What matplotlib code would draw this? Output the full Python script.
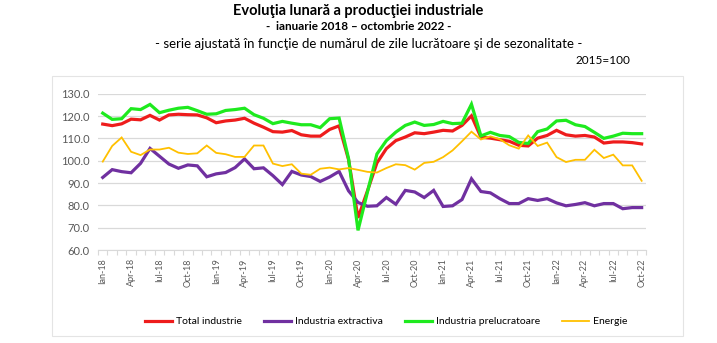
import matplotlib
matplotlib.use("Agg")
import matplotlib.pyplot as plt
from matplotlib.patches import Rectangle

plt.rcParams['font.family'] = ['Lato', 'DejaVu Sans']

# luni: ianuarie 2018 - octombrie 2022
luni = [f"{l}-{a}" for a in range(18, 23)
        for l in ["Ian", "Feb", "Mar", "Apr", "Mai", "Iun", "Iul", "Aug", "Sep", "Oct", "Noi", "Dec"]][:58]

total_industrie = [116.4, 115.7, 116.5, 118.6, 118.3, 120.3, 118.2, 120.5, 120.8, 120.6,
                   120.5, 119.2, 117.0, 117.8, 118.2, 119.0, 116.8, 115.0, 113.0, 112.8,
                   113.5, 111.6, 111.0, 111.0, 114.0, 115.6, 100.5, 74.4, 86.5, 99.0,
                   105.4, 109.0, 110.6, 112.5, 112.1, 112.8, 113.6, 113.3, 115.8, 120.1,
                   110.5, 110.1, 109.4, 108.7, 106.9, 106.6, 110.1, 111.3, 113.6, 111.6,
                   111.0, 111.3, 110.6, 107.9, 108.4, 108.4, 108.1, 107.5]

industria_extractiva = [92.5, 96.0, 95.1, 94.6, 98.8, 105.5, 102.0, 98.5, 96.6, 98.1,
                        97.7, 92.8, 94.1, 94.7, 96.9, 100.8, 96.4, 96.8, 93.3, 89.3,
                        95.2, 93.6, 92.9, 90.7, 92.7, 95.2, 86.5, 81.3, 79.6, 79.8,
                        83.5, 80.5, 86.7, 86.0, 83.5, 86.7, 79.5, 79.8, 82.6, 91.9,
                        86.2, 85.6, 83.0, 80.8, 80.8, 83.0, 82.2, 83.0, 81.1, 79.8,
                        80.4, 81.2, 79.8, 80.8, 80.8, 78.5, 79.0, 79.0]

industria_prelucratoare = [121.3, 118.5, 118.8, 123.3, 122.9, 125.2, 121.5, 122.6, 123.5, 123.9,
                           122.4, 120.8, 121.0, 122.5, 122.9, 123.5, 120.6, 119.0, 116.6, 117.6,
                           116.8, 116.1, 116.1, 114.8, 118.8, 119.1, 100.9, 68.8, 86.0, 103.0,
                           109.0, 112.8, 115.8, 117.3, 115.8, 116.2, 117.6, 116.6, 116.8, 125.3,
                           111.1, 112.7, 111.3, 110.8, 108.2, 107.7, 113.0, 114.2, 117.8, 118.1,
                           116.1, 115.3, 112.7, 110.0, 111.0, 112.3, 112.1, 112.1]

energie = [99.6, 106.6, 110.4, 104.0, 102.5, 105.0, 105.0, 105.8, 103.6, 103.0,
           103.3, 106.8, 103.5, 102.9, 101.7, 101.7, 106.8, 106.8, 98.7, 97.6,
           98.4, 94.2, 93.7, 96.4, 96.9, 96.1, 96.7, 95.9, 95.0, 94.7,
           96.7, 98.4, 98.0, 96.0, 99.0, 99.5, 101.6, 104.6, 108.7, 113.0,
           109.5, 110.9, 109.6, 106.9, 105.4, 111.3, 106.6, 108.1, 101.6, 99.4,
           100.4, 100.4, 104.9, 101.2, 102.7, 97.9, 97.9, 91.0]

serii = [
    ("Total industrie", total_industrie, "#ee1c1c", 2.3),
    ("Industria extractiva", industria_extractiva, "#7030a0", 2.3),
    ("Industria prelucratoare", industria_prelucratoare, "#1eea1e", 2.3),
    ("Energie", energie, "#ffc000", 1.3),
]

fig = plt.figure(figsize=(7.17, 3.43), dpi=100)
ax = fig.add_axes([0.1367, 0.2711, 0.7648, 0.4557])

# chenarul graficului
fig.patches.append(Rectangle((52 / 717, 1 - 336 / 343), 631 / 717, 260 / 343,
                             transform=fig.transFigure, fill=False,
                             edgecolor="#e4e4e4", linewidth=0.8, zorder=0))

x = list(range(len(luni)))
for nume, valori, culoare, lw in serii:
    ax.plot(x, valori, color=culoare, linewidth=lw, label=nume, solid_joinstyle="miter")

ax.set_xlim(-0.5, len(luni) - 0.5)
ax.set_ylim(60, 130)
ax.set_yticks(range(60, 131, 10))
ax.set_yticklabels([f"{v:.1f}" for v in range(60, 131, 10)])
ax.set_xticks(x[::3])
ax.set_xticklabels(luni[::3], rotation=90)
ax.set_xticks([i - 0.5 for i in range(len(luni) + 1)], minor=True)

ax.grid(axis="y", color="#d9d9d9", linewidth=0.9)
ax.set_axisbelow(True)
for s in ["top", "right", "left"]:
    ax.spines[s].set_visible(False)
ax.spines["bottom"].set_color("#d9d9d9")
ax.tick_params(axis="y", length=0, labelsize=8, labelcolor="#595959", pad=6)
ax.tick_params(axis="x", which="major", length=0, labelsize=6.5, labelcolor="#595959", pad=6)
ax.tick_params(axis="x", which="minor", length=3.5, color="#d9d9d9", width=0.8)

fig.text(0.5, 0.968, "Evoluţia lunară a producţiei industriale", ha="center", va="center",
         fontsize=10.5, fontweight="bold")
fig.text(0.5, 0.922, "-  ianuarie 2018 – octombrie 2022 -", ha="center", va="center",
         fontsize=8.5, fontweight="bold")
fig.text(0.514, 0.873, "- serie ajustată în funcţie de numărul de zile lucrătoare şi de sezonalitate -",
         ha="center", va="center", fontsize=9.5)
fig.text(630 / 717, 0.825, "2015=100", ha="right", va="center", fontsize=8.5)

fig.legend(loc="center", bbox_to_anchor=(386 / 717, 1 - 321.5 / 343), ncol=4, frameon=False,
           fontsize=7.5, handlelength=2.6, handletextpad=0.4, columnspacing=2.1)

fig.savefig("out.png", dpi=100)
